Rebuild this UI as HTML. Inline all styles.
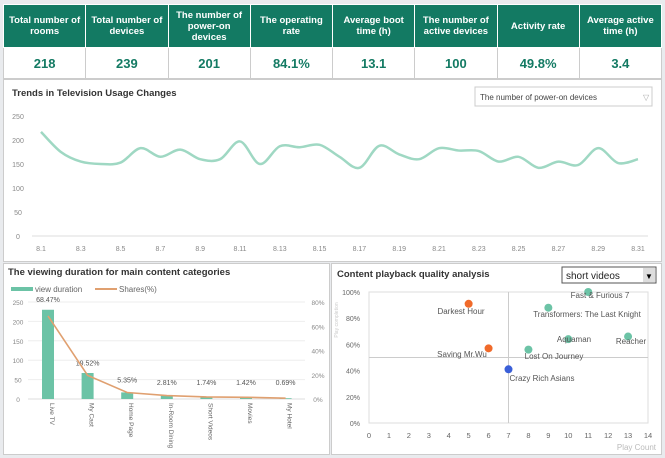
<!DOCTYPE html>
<html><head><meta charset="utf-8"><style>
body{margin:0;background:#fff;font-family:"Liberation Sans",sans-serif;}
#wrap{position:relative;width:665px;height:458px;background:#e9ebee;overflow:hidden}
table{position:absolute;left:3px;top:4px;width:659px;border-collapse:collapse;table-layout:fixed}
th{background:#137a63;color:#fff;font-size:9.5px;font-weight:bold;height:42px;border:1px solid #fff;line-height:11px;padding:0 2px}
td{background:#fff;color:#137a63;font-size:13px;font-weight:bold;text-align:center;height:28px;border:1px solid #ccc}
.panel{position:absolute;background:#fff;border:1px solid #ccc}
</style></head><body><div id="wrap">
<table><tr><th>Total number of rooms</th><th>Total number of devices</th><th>The number of power-on devices</th><th>The operating rate</th><th>Average boot time (h)</th><th>The number of active devices</th><th>Activity rate</th><th>Average active time (h)</th></tr>
<tr><td>218</td><td>239</td><td>201</td><td>84.1%</td><td>13.1</td><td>100</td><td>49.8%</td><td>3.4</td></tr></table>
<div class="panel" style="left:3px;top:79px;width:657px;height:181px"></div>
<div class="panel" style="left:3px;top:263px;width:325px;height:190px"></div>
<div class="panel" style="left:331px;top:263px;width:329px;height:190px"></div>
<svg id="s" width="665" height="458" style="position:absolute;left:0;top:0" font-family="Liberation Sans, sans-serif">
<text x="12" y="96" font-size="9.5" font-weight="bold" fill="#333">Trends in Television Usage Changes</text>
<rect x="475" y="87" width="177" height="19" fill="#fff" stroke="#ccc"/>
<text x="480" y="100" font-size="8" fill="#444">The number of power-on devices</text>
<text x="643" y="100" font-size="8" fill="#aaa">▽</text>
<text x="8" y="275" font-size="9.5" font-weight="bold" fill="#333">The viewing duration for main content categories</text>
<rect x="11" y="287" width="22" height="4" fill="#6cc3a6"/><text x="35" y="292" font-size="8" fill="#666">view duration</text>
<line x1="95" y1="289" x2="117" y2="289" stroke="#e0a070" stroke-width="2"/><text x="119" y="292" font-size="8" fill="#666">Shares(%)</text>
<text x="337" y="277" font-size="9.5" font-weight="bold" fill="#333">Content playback quality analysis</text>
<rect x="562" y="267" width="94" height="16" fill="#fff" stroke="#555"/>
<text x="566" y="279" font-size="10" fill="#222">short videos</text>
<rect x="643" y="268" width="12" height="14" fill="#ddd"/><text x="645" y="279" font-size="8">▼</text>
<g id="g"></g>
</svg></div>
<script>
var g=document.getElementById('g'),h='';
function T(x,y,t,s,c,a,ex){h+='<text x="'+x+'" y="'+y+'" font-size="'+s+'" fill="'+c+'" text-anchor="'+(a||'middle')+'" '+(ex||'')+'>'+t+'</text>';}
for(var i=0;i<=5;i++){var y=236-i*24;T(18,y+3,i*50,7,'#888');}
h+='<line x1="32" y1="236" x2="648" y2="236" stroke="#ddd"/>';
var v=[217,175,155,150,153,183,165,180,160,160,197,150,187,185,190,165,142,188,170,160,183,178,177,155,165,142,155,148,183,152,160];
var pts=v.map(function(d,i){return [41+i*19.9,236-d*24/50]});
for(i=0;i<31;i+=2)T(pts[i][0],251,'8.'+(i+1),7,'#888');
var p='M'+pts[0];
for(i=0;i<30;i++){var p0=pts[Math.max(i-1,0)],p1=pts[i],p2=pts[i+1],p3=pts[Math.min(i+2,30)];
p+=' C'+(p1[0]+(p2[0]-p0[0])/6)+','+(p1[1]+(p2[1]-p0[1])/6)+' '+(p2[0]-(p3[0]-p1[0])/6)+','+(p2[1]-(p3[1]-p1[1])/6)+' '+p2;}
h+='<path d="'+p+'" fill="none" stroke="#9fd8c3" stroke-width="2.5"/>';
for(i=0;i<=5;i++){var y=399-i*19.4;T(18,y+3,i*50,6.5,'#888');if(i)h+='<line x1="28" y1="'+y+'" x2="305" y2="'+y+'" stroke="#eee"/>';}
for(i=0;i<=4;i++)T(318,399-i*24.25+3,(i*20)+'%',6.5,'#888');
h+='<line x1="28" y1="399" x2="305" y2="399" stroke="#ddd"/>';
var bv=[230,67,17,9,5,4,2],sh=[68.47,19.52,5.35,2.81,1.74,1.42,0.69],cats=['Live TV','My Cast','Home Page','In-Room Dining','Short Videos','Movies','My Hotel'];
var lp='';
for(i=0;i<7;i++){var x=48+i*39.6,bh=bv[i]*97/250;h+='<rect x="'+(x-6)+'" y="'+(399-bh)+'" width="12" height="'+bh+'" fill="#6cc3a6"/>';
var ly=399-sh[i]*97/80;lp+=(i?'L':'M')+x+','+ly;T(x,i?Math.min(ly-10,385):302,sh[i]+'%',7,'#555');
T(0,0,cats[i],6.5,'#666','start','transform="translate('+(x+2)+',403) rotate(90)"');}
h+='<path d="'+lp+'" fill="none" stroke="#e0a070" stroke-width="1.6"/>';
var X=function(a){return 369+a*279/14},Y=function(b){return 423-b*1.31};
h+='<rect x="369" y="292" width="279" height="131" fill="none" stroke="#ddd"/>';
h+='<line x1="'+X(7)+'" y1="292" x2="'+X(7)+'" y2="423" stroke="#ccc"/><line x1="369" y1="'+Y(50)+'" x2="648" y2="'+Y(50)+'" stroke="#ccc"/>';
for(i=0;i<=5;i++)T(360,Y(i*20)+3,(i*20)+'%',7,'#666','end');
for(i=0;i<=14;i++)T(X(i),438,i,7.5,'#666');
T(656,450,'Play Count',8,'#bbb','end');
T(0,0,'Play completion',5,'#ccc','middle','transform="translate(338,320) rotate(-90)"');
var sp=[[11,100,'#6cc3a6','Fast &amp; Furious 7',600,298],[9,88,'#6cc3a6','Transformers: The Last Knight',587,317],[10,64,'#6cc3a6','Aquaman',574,342],[13,66,'#6cc3a6','Reacher',631,344],[8,56,'#6cc3a6','Lost On Journey',554,359],[5,91,'#f06a2a','Darkest Hour',461,314],[6,57,'#f06a2a','Saving Mr.Wu',462,357],[7,41,'#3a5fd8','Crazy Rich Asians',542,381]];
sp.forEach(function(s){h+='<circle cx="'+X(s[0])+'" cy="'+Y(s[1])+'" r="4" fill="'+s[2]+'"/>';T(s[4],s[5],s[3],8,'#555');});
g.innerHTML=h;
</script></body></html>
